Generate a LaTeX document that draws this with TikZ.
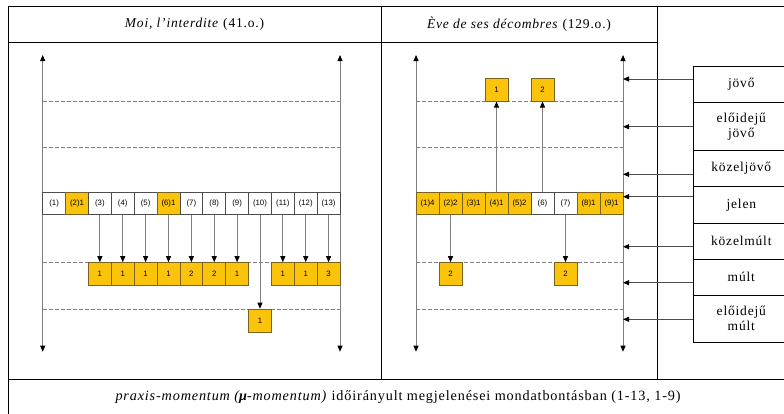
\documentclass[tikz,border=0pt]{standalone}
\usepackage{fontspec}
\setmainfont{Liberation Serif}[LetterSpace=6]
\setsansfont{Liberation Sans}
\usetikzlibrary{arrows.meta,calc}
\definecolor{gold}{HTML}{FCC30B}
\definecolor{goldline}{HTML}{7A6320}
\definecolor{axisgray}{HTML}{808080}
\begin{document}
\begin{tikzpicture}[x=1pt,y=-1pt,
  cell/.style={draw=black!70, line width=0.6pt, minimum width=22.87pt, minimum height=22.7pt, inner sep=0pt, font=\sffamily\fontsize{7.8}{8}\selectfont},
  rcell/.style={cell, minimum width=23pt},
  hot/.style={cell, fill=gold, draw=goldline},
  rhot/.style={hot, minimum width=23pt},
  valbox/.style={hot, minimum width=23pt, minimum height=23pt},
  axisline/.style={draw=axisgray, line width=0.9pt, {Triangle[length=6pt,width=5pt,color=black]}-{Triangle[length=6pt,width=5pt,color=black]}},
  tip/.style={draw=axisgray, line width=0.9pt, -{Triangle[length=6pt,width=5pt,color=black]}},
  ltip/.style={draw=black!70, line width=0.9pt, -{Triangle[length=6pt,width=5pt,color=black]}},
  dline/.style={draw=axisgray, line width=0.9pt, dash pattern=on 4pt off 2pt},
  frame/.style={draw=black, line width=0.8pt},
  lab/.style={draw=black, line width=0.8pt, minimum width=96pt, inner sep=0pt, align=center, font=\fontsize{13.5}{15}\selectfont},
  ttl/.style={font=\fontsize{13.5}{15}\selectfont, inner sep=0pt}
]
\useasboundingbox (0,0) rectangle (784,413);
\clip (0,0) rectangle (784,413);
\fill[white] (0,0) rectangle (784,413);

% table frame
\draw[frame] (8,6) -- (790,6);
\draw[frame] (8,42.3) -- (657.3,42.3);
\draw[frame] (8,6) -- (8,420);
\draw[frame] (381,6) -- (381,379.3);
\draw[frame] (657.3,6) -- (657.3,379.3);
\draw[frame] (8,379.3) -- (790,379.3);

% titles
\node[ttl] (t1) at (194.5,24) {\textit{Moi, l’interdite} (41.o.)};
\node[ttl] (t2) at (519,24) {\textit{Ève de ses décombres} (129.o.)};
\node[ttl, font=\fontsize{14.2}{16}\selectfont] (cap) at (398,397) {\textit{praxis-momentum (\textbf{μ}-momentum)} időirányult megjelenései mondatbontásban (1-13, 1-9)};

% dashed levels
\foreach \yy in {101.2,147.5,262.5,309} {
  \draw[dline] (42.7,\yy) -- (340,\yy);
  \draw[dline] (416,\yy) -- (623,\yy);
}

% axes
\coordinate (la1) at (42.7,55);  \coordinate (la2) at (42.7,351.7);
\coordinate (lb1) at (340,55);   \coordinate (lb2) at (340,351.7);
\coordinate (ra1) at (416,55);   \coordinate (ra2) at (416,351.7);
\coordinate (rb1) at (623,55);   \coordinate (rb2) at (623,351.7);
\draw[axisline] (la1) -- (la2);
\draw[axisline] (lb1) -- (lb2);
\draw[axisline] (ra1) -- (ra2);
\draw[axisline] (rb1) -- (rb2);

% left row
\foreach \i/\t/\s in {1/{(1)}/cell,2/{(2)1}/hot,3/{(3)}/cell,4/{(4)}/cell,5/{(5)}/cell,6/{(6)1}/hot,7/{(7)}/cell,8/{(8)}/cell,9/{(9)}/cell,10/{(10)}/cell,11/{(11)}/cell,12/{(12)}/cell,13/{(13)}/cell}
  \node[\s] (L\i) at ({42.7+(\i-0.5)*22.87},203.35) {\t};

% left values
\foreach \i/\v in {3/1,4/1,5/1,6/1,7/2,8/2,9/1,11/1,12/1,13/3} {
  \node[valbox, minimum width=22.87pt] (Y\i) at ({42.7+(\i-0.5)*22.87},274) {\v};
  \draw[tip] (L\i.south) -- (Y\i.north);
}
\node[valbox, minimum width=22.87pt] (Y10) at ({42.7+9.5*22.87},320.5) {1};
\draw[tip] (L10.south) -- (Y10.north);

% right row
\foreach \i/\t/\s in {1/{(1)4}/rhot,2/{(2)2}/rhot,3/{(3)1}/rhot,4/{(4)1}/rhot,5/{(5)2}/rhot,6/{(6)}/rcell,7/{(7)}/rcell,8/{(8)1}/rhot,9/{(9)1}/rhot}
  \node[\s] (R\i) at ({416+(\i-0.5)*23},203.35) {\t};

\node[valbox] (T4) at ({416+3.5*23},89.7) {1};
\node[valbox] (T6) at ({416+5.5*23},89.7) {2};
\draw[tip] (R4.north) -- (T4.south);
\draw[tip] (R6.north) -- (T6.south);
\node[valbox] (B2) at ({416+1.5*23},274) {2};
\node[valbox] (B7) at ({416+6.5*23},274) {2};
\draw[tip] (R2.south) -- (B2.north);
\draw[tip] (R7.south) -- (B7.north);

% label boxes
\node[lab, minimum height=35.3pt] (k1) at (741.3,84.35) {jövő};
\node[lab, minimum height=48.7pt] (k2) at (741.3,126.35) {előidejű\\jövő};
\node[lab, minimum height=36pt] (k3) at (741.3,168.7) {közeljövő};
\node[lab, minimum height=36.6pt] (k4) at (741.3,205) {jelen};
\node[lab, minimum height=36pt] (k5) at (741.3,241.3) {közelmúlt};
\node[lab, minimum height=35.7pt] (k6) at (741.3,277.15) {múlt};
\node[lab, minimum height=47.7pt] (k7) at (741.3,318.85) {előidejű\\múlt};

\foreach \k/\yy in {1/79,2/126.7,3/174.3,4/196.7,5/246.7,6/282.7,7/319.3} {
  \coordinate (p\k) at (623,\yy);
  \draw[ltip] (k\k.west |- p\k) -- (p\k);
}
\end{tikzpicture}
\end{document}
